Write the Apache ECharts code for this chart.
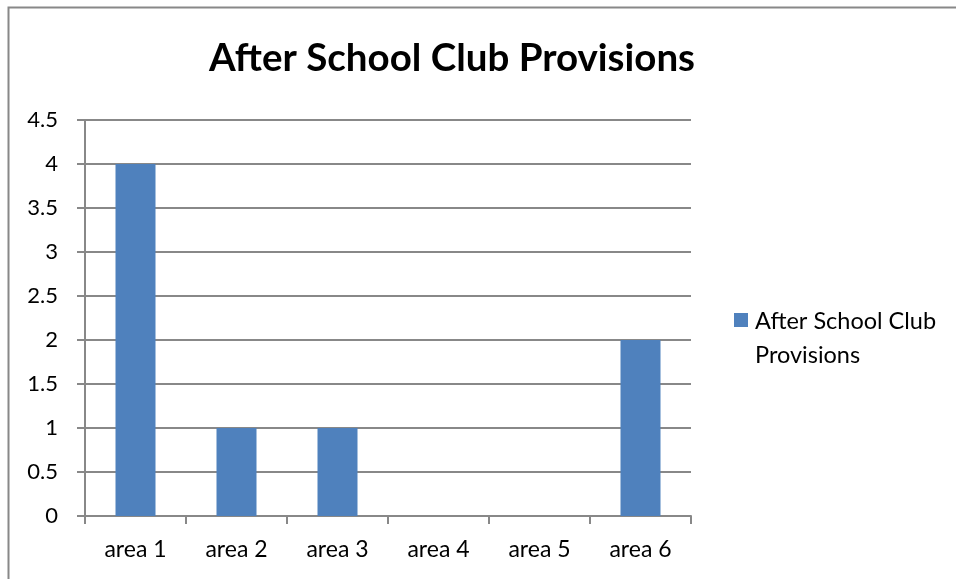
<!DOCTYPE html>
<html><head><meta charset="utf-8">
<script src="https://cdn.jsdelivr.net/npm/echarts@6/dist/echarts.min.js"></script>
<style>html,body{margin:0;padding:0;background:#fff}#c{width:956px;height:579px}</style>
</head><body><div id="c"></div>
<script>
const categories = ['area 1','area 2','area 3','area 4','area 5','area 6'];
const values = [4, 1, 1, 0, 0, 2];
const seriesName = 'After School Club Provisions';
const legendLines = ['After School Club', 'Provisions'];
const yTicks = {min: 0, max: 4.5, interval: 0.5};

const chart = echarts.init(document.getElementById('c'));
const font = 'Lato, "Open Sans", sans-serif';
chart.setOption({
  animation: false,
  backgroundColor: '#fff',
  graphic: [
    {type:'rect', shape:{x:8.5, y:7.5, width:1000, height:1000}, style:{fill:'none', stroke:'#888', lineWidth:2}},
    {type:'rect', shape:{x:734, y:313, width:14, height:14}, style:{fill:'#4F81BD'}},
    {type:'text', x:755, y:304, style:{text: legendLines.join('\n'), fontFamily: font, fontSize: 23.5, lineHeight: 34, fill:'#000'}}
  ],
  title: {text: seriesName, left: 447, textAlign: 'center', top: 34,
    textStyle: {fontFamily: font, fontWeight: 'bold', fontSize: 38.5, color: '#000'}},
  legend: {show: false},
  grid: {left: 85, right: 265, top: 120, bottom: 63},
  xAxis: {type: 'category', data: categories,
    axisLine: {lineStyle: {color: '#888', width: 2}},
    axisTick: {show: true, length: 8, lineStyle: {color: '#888', width: 2}},
    axisLabel: {fontFamily: font, fontSize: 23, color: '#000', margin: 22}},
  yAxis: {type: 'value', min: yTicks.min, max: yTicks.max, interval: yTicks.interval,
    axisLine: {show: true, lineStyle: {color: '#888', width: 2}},
    axisTick: {show: true, length: 8, lineStyle: {color: '#888', width: 2}},
    splitLine: {lineStyle: {color: '#888', width: 2}},
    axisLabel: {fontFamily: font, fontSize: 22, color: '#000', margin: 27}},
  series: [{name: seriesName, type: 'bar', data: values, barWidth: 40,
    itemStyle: {color: '#4F81BD'}}]
});
</script></body></html>
